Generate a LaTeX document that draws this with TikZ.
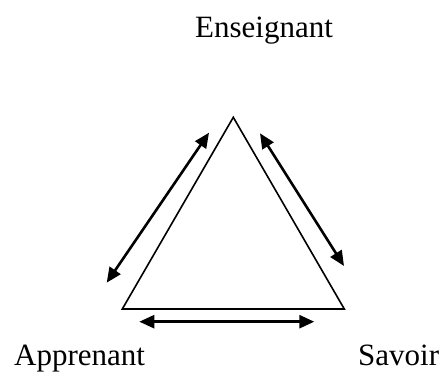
\documentclass[tikz,border=0pt]{standalone}
\usepackage{fontspec}
\setmainfont{Liberation Serif}
\usetikzlibrary{arrows.meta}
\begin{document}
\begin{tikzpicture}[x=1pt,y=-1pt,
  lbl/.style={anchor=base west,inner sep=0pt,font=\fontsize{31}{37}\selectfont},
  edge/.style={line width=1.6pt,line join=miter},
  rel/.style={line width=2.6pt,{Triangle[length=15pt,width=13pt]}-{Triangle[length=15pt,width=13pt]}}]
\useasboundingbox (0,0) rectangle (443,371);
\coordinate (top) at (233.3,117.3);
\coordinate (bl) at (122.3,309);
\coordinate (br) at (344.3,309);
\draw[edge] (top) -- (bl) -- (br) -- cycle;
\coordinate (l1) at (106.7,282.7);
\coordinate (l2) at (209,132.7);
\coordinate (r1) at (260,133.3);
\coordinate (r2) at (344,266);
\coordinate (b1) at (139.3,321.7);
\coordinate (b2) at (314.3,321.7);
\draw[rel] (l1) -- (l2);
\draw[rel] (r1) -- (r2);
\draw[rel] (b1) -- (b2);
\node[lbl] (ens) at (195,38) {Enseignant};
\node[lbl] (app) at (14,365) {Apprenant};
\node[lbl] (sav) at (358,365) {Savoir};
\end{tikzpicture}
\end{document}
